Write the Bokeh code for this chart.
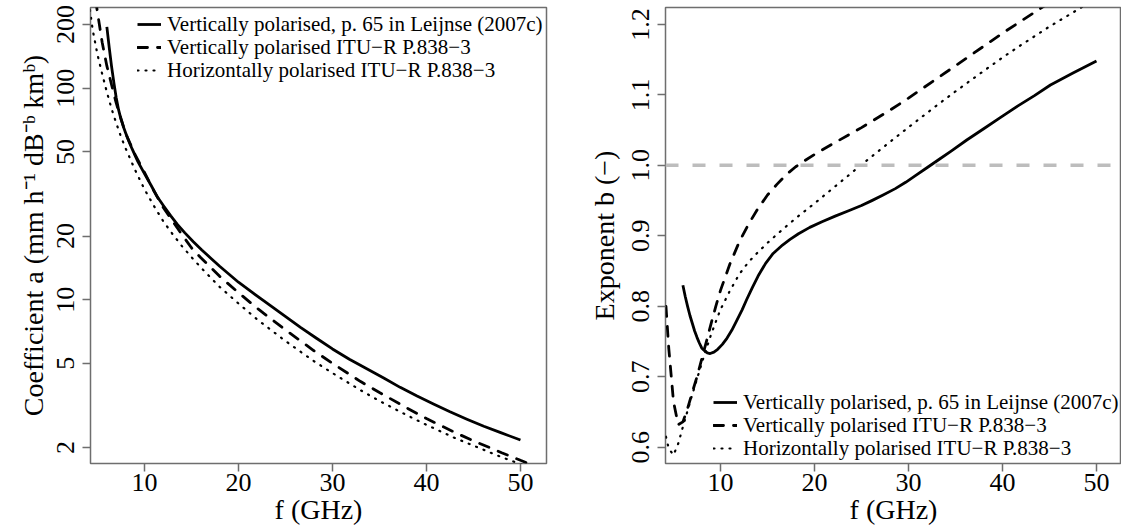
from bokeh.plotting import figure
from bokeh.models import (Range1d, FixedTicker, CustomJSTickFormatter, Legend, LegendItem, Span)
from bokeh.layouts import row
from bokeh.embed import file_html
from bokeh.resources import INLINE

# ---------------- data ----------------
# Left panel: coefficient a
f_a_leijnse = [6.0, 6.25, 6.5, 6.75, 7.0, 7.25, 7.5, 7.75, 8.0, 8.35, 8.7, 9.3, 10.0, 10.7,
               11.4, 12.1, 12.8, 13.5, 14.3, 15.2, 16.1, 17.0, 18.0, 19.0, 20.0, 21.5, 23.0,
               24.8, 26.6, 28.3, 30.0, 31.8, 33.7, 35.5, 37.2, 39.0, 40.8, 42.5, 44.3, 46.1,
               47.9, 50.0]
a_leijnse = [195, 156, 127, 106, 90, 79, 71.5, 66, 61.5, 56, 51.5, 45, 39.5, 34.8,
             30.5, 27.5, 24.9, 22.7, 20.7, 18.8, 17.2, 15.8, 14.4, 13.2, 12.1, 10.8, 9.65,
             8.45, 7.4, 6.57, 5.85, 5.23, 4.7, 4.25, 3.85, 3.5, 3.2, 2.95, 2.72, 2.52,
             2.35, 2.17]

f_a_itu_v = [4.8, 5.0, 5.5, 6.0, 6.5, 7.0, 7.5, 8.0, 9.0, 10, 11, 12, 13, 14, 15, 16, 18, 20,
             22, 25, 28, 30, 33, 35, 38, 40, 43, 45, 48, 50, 51]
a_itu_v = [262, 229, 165, 127.5, 104, 85, 72, 61, 48.6, 40.0, 32.7, 27.3, 23.5, 20.3, 17.6,
           15.8, 12.9, 10.8, 9.1, 7.2, 5.75, 5.0, 4.1, 3.64, 3.06, 2.74, 2.36, 2.15, 1.89,
           1.74, 1.67]

f_a_itu_h = [4.2, 4.5, 5.0, 5.5, 6.0, 6.5, 7.0, 7.5, 8.0, 9.0, 10, 11, 12, 13, 14, 15, 16, 18,
             20, 22, 25, 28, 30, 33, 35, 38, 40, 43, 45, 48, 50, 51]
a_itu_h = [235, 188, 144.5, 117, 96, 80, 68.4, 59, 51.9, 41.1, 33.3, 27.8, 23.5, 20.4, 17.9,
           15.9, 14.2, 11.5, 9.6, 8.06, 6.38, 5.13, 4.50, 3.73, 3.32, 2.83, 2.56, 2.22, 2.04,
           1.80, 1.67, 1.61]

# Right panel: exponent b
f_b_leijnse = [6.0, 6.25, 6.5, 6.75, 7.0, 7.25, 7.5, 7.75, 8.0, 8.3, 8.6, 8.9, 9.3, 9.7, 10.2,
               10.7, 11.2, 11.7, 12.3, 12.8, 13.4, 14.0, 14.8, 15.6, 16.6, 17.4, 18.3, 19.5,
               20.8, 22.2, 23.7, 25.0, 26.1, 27.3, 28.6, 29.7, 30.7, 32.0, 33.2, 34.5, 36.2,
               38.0, 39.8, 41.6, 43.4, 45.1, 47.5, 50.0]
b_leijnse = [0.830, 0.814, 0.800, 0.787, 0.776, 0.765, 0.756, 0.748, 0.741, 0.737, 0.734,
             0.733, 0.735, 0.739, 0.746, 0.755, 0.766, 0.779, 0.795, 0.810, 0.827, 0.843,
             0.861, 0.875, 0.887, 0.895, 0.903, 0.912, 0.920, 0.928, 0.936, 0.943, 0.950,
             0.958, 0.967, 0.976, 0.985, 0.997, 1.008, 1.020, 1.036, 1.052, 1.068, 1.084,
             1.099, 1.114, 1.131, 1.148]

f_b_itu_v = [4.2, 4.5, 5.0, 5.5, 6.0, 6.5, 7.0, 7.5, 8.0, 8.5, 9.0, 9.5, 10, 11, 12, 13, 14,
             15, 16, 17, 18, 19, 20, 22, 25, 28, 30, 33, 35, 38, 40, 42, 45, 48, 50]
b_itu_v = [0.80, 0.74, 0.665, 0.632, 0.636, 0.655, 0.678, 0.700, 0.725, 0.750, 0.7755, 0.800,
           0.8226, 0.860, 0.8916, 0.917, 0.939, 0.9579, 0.973, 0.987, 0.998, 1.007, 1.0155,
           1.031, 1.0536, 1.078, 1.0954, 1.123, 1.1414, 1.169, 1.1875, 1.205, 1.231, 1.255,
           1.270]

f_b_itu_h = [4.2, 4.5, 5.0, 5.5, 6.0, 6.5, 7.0, 7.5, 8.0, 8.5, 9.0, 9.5, 10, 11, 12, 13, 14,
             15, 16, 18, 20, 22, 25, 28, 30, 33, 35, 38, 40, 42, 45, 48, 50]
b_itu_h = [0.615, 0.598, 0.589, 0.605, 0.629, 0.652, 0.675, 0.697, 0.719, 0.740, 0.760, 0.778,
           0.7955, 0.822, 0.8457, 0.863, 0.877, 0.890, 0.902, 0.925, 0.946, 0.968, 1.001,
           1.033, 1.054, 1.085, 1.105, 1.134, 1.153, 1.171, 1.197, 1.221, 1.237]

b_reference = [1.0]

x_ticks = [10, 20, 30, 40, 50]
a_ticks = [2, 5, 10, 20, 50, 100, 200]
b_ticks = [0.6, 0.7, 0.8, 0.9, 1.0, 1.1, 1.2]

legend_labels = ["Vertically polarised, p. 65 in Leijnse (2007c)",
                 "Vertically polarised ITU\u2212R P.838\u22123",
                 "Horizontally polarised ITU\u2212R P.838\u22123"]
x_title = "f (GHz)"
a_title = "Coefficient a (mm h\u207b\u00b9 dB\u207b\u1d47 km\u1d47)"
b_title = "Exponent b (\u2212)"

# ---------------- layout / style ----------------
FONT = "Liberation Serif"
TICK_PX = 26
TITLE_PX = 28
LEG_PX = 21
FRAME_H = 456
TOP = 7
FIG_H = 529
L_BORDER_L, L_FRAME_W, L_BORDER_R = 90, 456, 10
R_BORDER_L, R_FRAME_W, R_BORDER_R = 109, 456, 0
XR_L = (4.26, 52.77)
XR_R = (4.15, 52.66)
YR_A = (1.68, 241.0)
YR_B = (0.577, 1.224)
FG = "#6e6e6e"


def make_fig(bl, fw, br, xr, yr, ytype, ylabel, ylabel_standoff):
    p = figure(width=bl + fw + br, height=FIG_H, x_range=Range1d(*xr), y_range=Range1d(*yr),
               y_axis_type=ytype, output_backend="svg", toolbar_location=None,
               min_border_left=bl, min_border_right=br, min_border_top=TOP,
               min_border_bottom=FIG_H - TOP - FRAME_H)
    p.grid.visible = False
    p.outline_line_color = FG
    p.outline_line_width = 1.5
    p.background_fill_color = "white"
    p.border_fill_color = "white"
    for ax in (p.xaxis[0], p.yaxis[0]):
        ax.axis_line_color = None
        ax.major_tick_line_color = FG
        ax.major_tick_line_width = 1.5
        ax.major_tick_out = 8
        ax.major_tick_in = 0
        ax.minor_tick_line_color = None
        ax.major_label_text_font = FONT
        ax.major_label_text_font_size = f"{TICK_PX}px"
        ax.major_label_text_color = "black"
        ax.axis_label_text_font = FONT
        ax.axis_label_text_font_size = f"{TITLE_PX}px"
        ax.axis_label_text_font_style = "normal"
        ax.axis_label_text_color = "black"
    p.xaxis.ticker = FixedTicker(ticks=x_ticks)
    p.xaxis.major_label_standoff = 2
    p.xaxis.axis_label = x_title
    p.xaxis.axis_label_standoff = 0
    p.yaxis.major_label_orientation = "vertical"
    p.yaxis.major_label_standoff = 8
    p.yaxis.axis_label = ylabel
    p.yaxis.axis_label_standoff = ylabel_standoff
    return p


def add_curves(p, fs, ys):
    r1 = p.line(fs[0], ys[0], line_color="black", line_width=2.8, line_join="round")
    r2 = p.line(fs[1], ys[1], line_color="black", line_width=2.8, line_dash="10 10",
                line_cap="round")
    r3 = p.line(fs[2], ys[2], line_color="black", line_width=2.2, line_dash="1 7",
                line_cap="round")
    return [r1, r2, r3]


def add_legend(p, rs, x, bottoms):
    for lab, r, yb in zip(legend_labels, rs, bottoms):
        leg = Legend(items=[LegendItem(label=lab, renderers=[r])], location=(x, yb),
                     padding=0, margin=0, spacing=0, glyph_width=24, glyph_height=30,
                     label_height=30, label_standoff=6, label_text_font=FONT,
                     label_text_font_size=f"{LEG_PX}px", label_text_color="black",
                     border_line_color=None, background_fill_alpha=0)
        p.add_layout(leg)


# ---------------- left panel ----------------
p1 = make_fig(L_BORDER_L, L_FRAME_W, L_BORDER_R, XR_L, YR_A, "log", a_title, 6)
p1.yaxis.ticker = FixedTicker(ticks=a_ticks)
p1.yaxis.formatter = CustomJSTickFormatter(code="return String(tick)")
rs1 = add_curves(p1, [f_a_leijnse, f_a_itu_v, f_a_itu_h], [a_leijnse, a_itu_v, a_itu_h])
add_legend(p1, rs1, 47, [424, 401, 378])

# ---------------- right panel ----------------
p2 = make_fig(R_BORDER_L, R_FRAME_W, R_BORDER_R, XR_R, YR_B, "linear", b_title, 10)
p2.yaxis.ticker = FixedTicker(ticks=b_ticks)
p2.yaxis.formatter = CustomJSTickFormatter(code="return tick.toFixed(1)")
p2.add_layout(Span(location=b_reference[0], dimension="width", line_color="#bdbdbd",
                   line_width=3.5, line_dash="13 14"))
rs2 = add_curves(p2, [f_b_leijnse, f_b_itu_v, f_b_itu_h], [b_leijnse, b_itu_v, b_itu_h])
add_legend(p2, rs2, 48, [46, 23, 0])

layout = row(p1, p2)
open("out.html", "w").write(file_html(layout, INLINE))
